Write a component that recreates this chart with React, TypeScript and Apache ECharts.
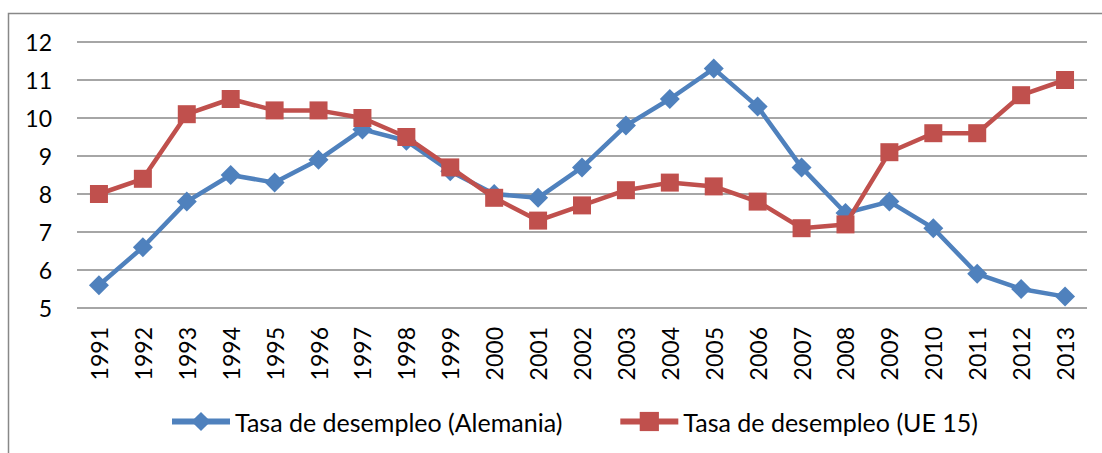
import React, { useEffect, useRef } from "react";
import * as echarts from "echarts";

const years = ["1991","1992","1993","1994","1995","1996","1997","1998","1999","2000","2001","2002","2003","2004","2005","2006","2007","2008","2009","2010","2011","2012","2013"];
const alemania = [5.6, 6.6, 7.8, 8.5, 8.3, 8.9, 9.7, 9.4, 8.6, 8.0, 7.9, 8.7, 9.8, 10.5, 11.3, 10.3, 8.7, 7.5, 7.8, 7.1, 5.9, 5.5, 5.3];
const ue15 = [8.0, 8.4, 10.1, 10.5, 10.2, 10.2, 10.0, 9.5, 8.7, 7.9, 7.3, 7.7, 8.1, 8.3, 8.2, 7.8, 7.1, 7.2, 9.1, 9.6, 9.6, 10.6, 11.0];
const seriesNames = ["Tasa de desempleo (Alemania)", "Tasa de desempleo (UE 15)"];

const FONT = "Lato";

export default function App() {
  const ref = useRef<HTMLDivElement>(null);
  useEffect(() => {
    if (!ref.current) return;
    const chart = echarts.init(ref.current, null, { renderer: "svg" });
    chart.setOption({
      animation: false,
      backgroundColor: "#ffffff",
      textStyle: { fontFamily: FONT },
      grid: { left: 77, right: 15, top: 42, bottom: 145, containLabel: false },
      graphic: [
        {
          type: "rect",
          shape: { x: 8.5, y: 13.5, width: 1100, height: 450 },
          style: { fill: "none", stroke: "#888888", lineWidth: 1.5 },
          silent: true,
        },
      ],
      legend: {
        left: 164,
        top: 404,
        itemWidth: 58,
        itemHeight: 24,
        itemGap: 55,
        lineStyle: { width: 6 },
        textStyle: { fontFamily: FONT, fontSize: 25, color: "#000" },
        data: seriesNames,
      },
      xAxis: {
        type: "category",
        data: years,
        boundaryGap: true,
        axisLine: { show: false },
        axisTick: { show: false },
        axisLabel: {
          rotate: 90,
          margin: 19,
          fontFamily: FONT,
          fontSize: 23,
          color: "#000",
          interval: 0,
        },
      },
      yAxis: {
        type: "value",
        min: 5,
        max: 12,
        interval: 1,
        axisLine: { show: false },
        axisTick: { show: false },
        axisLabel: { margin: 25, fontFamily: FONT, fontSize: 23, color: "#000" },
        splitLine: { lineStyle: { color: "#888888", width: 1.5 } },
      },
      series: [
        {
          name: seriesNames[0],
          type: "line",
          data: alemania,
          symbol: "diamond",
          symbolSize: 20,
          lineStyle: { color: "#4F81BD", width: 4.5 },
          itemStyle: { color: "#4F81BD" },
          z: 2,
        },
        {
          name: seriesNames[1],
          type: "line",
          data: ue15,
          symbol: "rect",
          symbolSize: 18,
          lineStyle: { color: "#C0504D", width: 4.5 },
          itemStyle: { color: "#C0504D" },
          z: 3,
        },
      ],
    });
    return () => chart.dispose();
  }, []);
  return (
    <div
      ref={ref}
      style={{ position: "absolute", left: 0, top: 0, width: 1102, height: 453 }}
    />
  );
}
